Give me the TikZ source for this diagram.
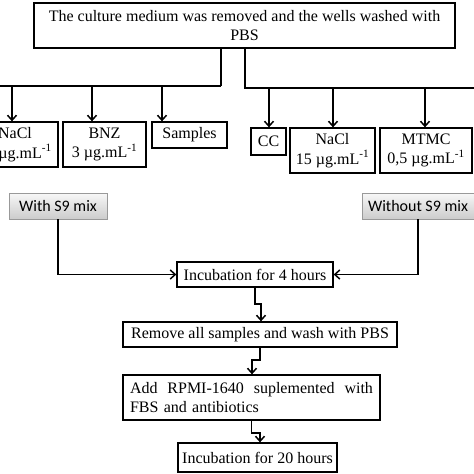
\documentclass[tikz,border=0pt]{standalone}
\usepackage{fontspec}
\setmainfont{Liberation Serif}
\newfontfamily\calfont{Carlito}
\usetikzlibrary{arrows.meta}
\begin{document}
\begin{tikzpicture}[x=1pt,y=-1pt,
  box/.style={draw, line width=1.3pt, inner sep=0pt, align=center,
    font=\fontsize{16}{19.5}\selectfont},
  sbox/.style={draw=gray!80, line width=0.9pt, inner sep=0pt,
    top color=gray!6, bottom color=gray!40,
    font=\calfont\fontsize{16}{19}\selectfont},
  ln/.style={line width=1.5pt},
  thick ln/.style={line width=2.3pt},
  arr/.style={line width=1.5pt, -{Straight Barb[length=5pt,width=9pt]}}]
\useasboundingbox (0,0) rectangle (474,474);
\clip (0,0) rectangle (474,474);
\fill[white] (0,0) rectangle (474,474);
% top
\node[box, minimum width=421pt, minimum height=45pt] (top) at (244.5,25.5)
  {The culture medium was removed and the wells washed with\\PBS};
% left group
\node[box, minimum width=86pt, minimum height=45pt] (nacla) at (15,144.5)
  {NaCl\\15 µg.mL\textsuperscript{-1}};
\node[box, minimum width=83pt, minimum height=45pt] (bnz) at (104.5,144.5)
  {BNZ\\3 µg.mL\textsuperscript{-1}};
\node[box, minimum width=75pt, minimum height=26pt] (samples) at (189.5,135) {Samples};
% right group
\node[box, minimum width=35pt, minimum height=27pt] (cc) at (268.5,141.5) {CC};
\node[box, minimum width=85pt, minimum height=45pt] (naclb) at (332.5,150.5)
  {NaCl\\15 µg.mL\textsuperscript{-1}};
\node[box, minimum width=92pt, minimum height=45pt] (mtmc) at (426,150.5)
  {MTMC\\0,5 µg.mL\textsuperscript{-1}};
% S9
\node[sbox, minimum width=98pt, minimum height=26pt] (with) at (58,206) {With S9 mix};
\node[sbox, minimum width=112pt, minimum height=26pt] (without) at (418,206) {Without S9 mix};
% flow
\node[box, minimum width=156pt, minimum height=25pt] (inca) at (255,274.5) {Incubation for 4 hours};
\node[box, minimum width=274pt, minimum height=25pt] (remove) at (260,334.5) {Remove all samples and wash with PBS};
\node[box, minimum width=257pt, minimum height=45pt, text width=243pt, inner xsep=7pt, align=left] (add) at (251.5,397.5)
  {Add\hfill RPMI-1640\hfill suplemented\hfill with\\FBS and antibiotics};
\node[box, minimum width=159pt, minimum height=29pt] (incb) at (257.5,457.5) {Incubation for 20 hours};
% branches
\coordinate (lb) at (221,86);
\coordinate (lend) at (-10,86);
\coordinate (rb) at (245,88);
\coordinate (rend) at (490,88);
\draw[thick ln] (lb |- top.south) -- (lb);
\draw[ln] (lb) -- (lend);
\draw[ln] (rb |- top.south) -- (rb) -- (rend);
\coordinate (l1) at (12,86);
\coordinate (l2) at (92,86);
\coordinate (l3) at (162,86);
\draw[arr] (l1) -- (l1 |- nacla.north);
\draw[arr] (l2) -- (l2 |- bnz.north);
\draw[arr] (l3) -- (l3 |- samples.north);
\coordinate (r1) at (269,88);
\coordinate (r2) at (333,88);
\coordinate (r3) at (425,88);
\draw[arr] (r1) -- (r1 |- cc.north);
\draw[arr] (r2) -- (r2 |- naclb.north);
\draw[arr] (r3) -- (r3 |- mtmc.north);
% S9 to incubation
\draw[arr] (with.south) |- (inca.west);
\draw[arr] (without.south) |- (inca.east);
% zigzags
\coordinate (j1) at (261,304);
\draw[arr] (inca.south) |- (j1) -- (j1 |- remove.north);
\coordinate (j2) at (252,360);
\draw[arr] (remove.south) |- (j2) -- (j2 |- add.north);
\coordinate (j3) at (260,433);
\draw[arr] (add.south) |- (j3) -- (j3 |- incb.north);
\end{tikzpicture}
\end{document}
